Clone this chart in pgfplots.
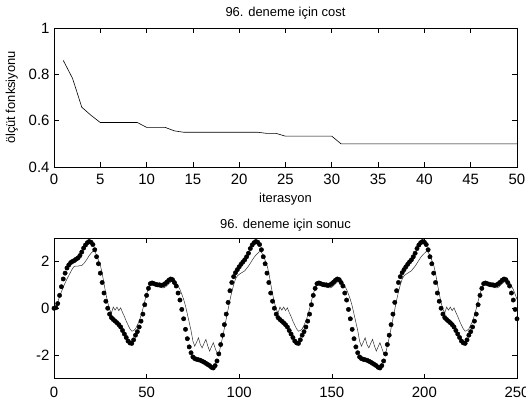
\documentclass[border=0pt]{standalone}
\usepackage{fontspec}
\setmainfont{Liberation Sans}
\usepackage{pgfplots}
\pgfplotsset{compat=1.18}

\pgfplotsset{
  mlab/.style={
    scale only axis,
    width=463bp,
    axis line style={black, line width=0.6bp},
    tick style={black, line width=0.6bp},
    tick align=inside,
    major tick length=5bp,
    /pgf/number format/assume math mode=true,
    tick label style={font=\fontsize{15}{15}\selectfont},
    xticklabel style={yshift=-3.5bp},
    yticklabel style={xshift=-1bp},
    title style={font=\fontsize{13}{13}\selectfont, yshift=-1bp},
    label style={font=\fontsize{13}{13}\selectfont},
  },
}

\begin{document}
\begin{tikzpicture}
\useasboundingbox (0bp,0bp) rectangle (526bp,-402bp);

% cost per iteration
\begin{axis}[mlab,
  at={(54bp,-167bp)}, anchor=south west,
  height=139bp,
  xmin=0, xmax=50, ymin=0.4, ymax=1,
  xtick={0,5,...,50},
  ytick={0.4,0.6,0.8,1},
  title={96. deneme için cost},
  xlabel={iterasyon},
  ylabel={ölçüt fonksiyonu},
  xlabel style={yshift=-2bp},
  ylabel style={yshift=4bp},
]
\addplot[black, line width=0.6bp] coordinates {
(1,0.86)(2,0.783)(3,0.658)(4,0.623)(5,0.592)(6,0.592)(7,0.592)(8,0.592)(9,0.592)
(10,0.571)(11,0.571)(12,0.571)(13,0.556)(14,0.55)(15,0.55)(16,0.55)(17,0.55)(18,0.55)
(19,0.55)(20,0.55)(21,0.55)(22,0.55)(23,0.545)(24,0.545)(25,0.533)(26,0.533)(27,0.533)
(28,0.533)(29,0.533)(30,0.533)(31,0.5)(32,0.5)(33,0.5)(34,0.5)(35,0.5)(36,0.5)(37,0.5)
(38,0.5)(39,0.5)(40,0.5)(41,0.5)(42,0.5)(43,0.5)(44,0.5)(45,0.5)(46,0.5)(47,0.5)
(48,0.5)(49,0.5)(50,0.5)
};
\end{axis}

% result: model output (line) vs target (dots)
\begin{axis}[mlab,
  at={(54bp,-378.5bp)}, anchor=south west,
  height=140.5bp,
  xmin=0, xmax=250, ymin=-3, ymax=3,
  xtick={0,50,...,250},
  ytick={-2,0,2},
  xticklabel style={yshift=-2bp},
  title={96. deneme için sonuc},
  title style={yshift=-2bp},
]
\addplot[black!80, line width=0.5bp] coordinates {
(0,0)(1,0.05)(2,0.25)(3,0.5)(4,0.7)(5,0.9)(6,1.08)(7,1.25)(8,1.4)(9,1.55)(10,1.7)(11,1.79)(12,1.8)(13,1.8)(14,1.82)(15,1.83)(16,1.9)(17,2)(18,2.12)(19,2.25)(20,2.35)(21,2.43)(22,2.45)
(23,2.25)(24,2.05)(25,1.85)(26,1.5)(27,1.05)(28,0.62)(29,0.25)(30,-0.05)(31,-0.2)(32,0.05)(33,-0.08)(34,0.05)(35,-0.1)(36,0.02)(37,-0.18)(38,-0.35)(39,-0.55)(40,-0.72)(41,-0.88)(42,-0.98)(43,-0.95)(44,-0.88)(45,-0.72)(46,-0.55)(47,-0.3)(48,-0.02)(49,0.3)(50,0.62)(51,0.85)(52,1)(53,1.03)(54,1)(55,0.95)(56,0.93)(57,0.9)(58,0.88)(59,0.87)(60,0.9)(61,0.97)(62,1.05)(63,1.12)(64,1.15)(65,1.17)(66,1.1)(67,0.95)(68,0.8)(69,0.6)(70,0.38)(71,0.1)(72,-0.25)(73,-0.6)(74,-0.95)(75,-1.4)(76,-1.62)(77,-1.45)(78,-1.26)(79,-1.55)(80,-1.69)(81,-1.5)(82,-1.33)(83,-1.6)(84,-1.83)(85,-1.65)(86,-1.47)(87,-1.7)(88,-1.92)(89,-1.97)
(90,-1.6)(91,-1.25)(92,-0.85)(93,-0.45)(94,-0.05)(95,0.35)(96,0.7)(97,1)(98,1.25)(99,1.38)(100,1.45)(101,1.5)(102,1.55)(103,1.6)(104,1.7)(105,1.8)(106,1.92)(107,2.05)(108,2.17)(109,2.27)(110,2.35)(111,2.42)(112,2.4)(113,2.25)(114,2.05)(115,1.85)(116,1.5)(117,1.05)(118,0.62)(119,0.25)(120,-0.05)(121,-0.2)(122,0.05)(123,-0.08)(124,0.05)(125,-0.1)(126,0.02)(127,-0.18)(128,-0.35)(129,-0.55)(130,-0.72)(131,-0.88)(132,-0.98)(133,-0.95)(134,-0.88)(135,-0.72)(136,-0.55)(137,-0.3)(138,-0.02)(139,0.3)(140,0.62)(141,0.85)(142,1)(143,1.03)(144,1)(145,0.95)(146,0.93)(147,0.9)(148,0.88)(149,0.87)(150,0.9)(151,0.97)(152,1.05)(153,1.12)(154,1.15)(155,1.17)(156,1.1)(157,0.95)(158,0.8)(159,0.6)(160,0.38)(161,0.1)(162,-0.25)(163,-0.6)(164,-0.95)(165,-1.4)(166,-1.62)(167,-1.45)(168,-1.26)(169,-1.55)(170,-1.69)(171,-1.5)(172,-1.33)(173,-1.6)(174,-1.83)(175,-1.65)(176,-1.47)(177,-1.7)(178,-1.92)(179,-1.97)
(180,-1.6)(181,-1.25)(182,-0.85)(183,-0.45)(184,-0.05)(185,0.35)(186,0.7)(187,1)(188,1.25)(189,1.38)(190,1.45)(191,1.5)(192,1.55)(193,1.6)(194,1.7)(195,1.8)(196,1.92)(197,2.05)(198,2.17)(199,2.27)(200,2.35)(201,2.42)(202,2.4)(203,2.25)(204,2.05)(205,1.85)(206,1.5)(207,1.05)(208,0.62)(209,0.25)(210,-0.05)(211,-0.2)(212,0.05)(213,-0.08)(214,0.05)(215,-0.1)(216,0.02)(217,-0.18)(218,-0.35)(219,-0.55)(220,-0.72)(221,-0.88)(222,-0.98)(223,-0.95)(224,-0.88)(225,-0.72)(226,-0.55)(227,-0.3)(228,-0.02)(229,0.3)(230,0.62)(231,0.85)(232,1)(233,1.03)(234,1)(235,0.95)(236,0.93)(237,0.9)(238,0.88)(239,0.87)(240,0.9)(241,0.97)(242,1.05)(243,1.12)(244,1.15)(245,1.17)(246,1.1)(247,0.95)(248,0.8)(249,0.6)(250,0.38)
};
\addplot[only marks, mark=*, mark size=2.2bp, black] coordinates {
(0,0)(1,0.02)(2,0.2)(3,0.55)(4,0.92)(5,1.25)(6,1.5)(7,1.72)(8,1.85)(9,1.95)(10,2)(11,2.04)(12,2.1)(13,2.15)(14,2.25)(15,2.4)(16,2.57)(17,2.7)(18,2.8)(19,2.85)
(20,2.82)(21,2.72)(22,2.5)(23,2.2)(24,1.9)(25,1.5)(26,1.1)(27,0.65)(28,0.3)(29,0)(30,-0.25)(31,-0.4)(32,-0.48)(33,-0.55)(34,-0.62)(35,-0.7)(36,-0.8)(37,-0.95)(38,-1.1)(39,-1.25)(40,-1.4)(41,-1.48)(42,-1.5)(43,-1.35)(44,-1.15)(45,-1)(46,-0.8)(47,-0.55)(48,-0.25)(49,0.15)(50,0.55)(51,0.85)(52,1.05)(53,1.08)(54,1.05)(55,1.02)(56,1)(57,1)(58,0.98)(59,1)(60,1.05)(61,1.12)(62,1.2)(63,1.25)(64,1.22)(65,1.1)(66,0.95)(67,0.65)(68,0.35)(69,-0.05)(70,-0.45)(71,-0.9)(72,-1.3)(73,-1.65)(74,-1.9)(75,-2.08)(76,-2.15)(77,-2.18)(78,-2.2)(79,-2.22)(80,-2.26)(81,-2.3)(82,-2.35)(83,-2.4)(84,-2.45)(85,-2.52)(86,-2.55)(87,-2.45)(88,-2.25)(89,-1.95)
(90,-1.55)(91,-1.15)(92,-0.7)(93,-0.25)(94,0.25)(95,0.75)(96,1.1)(97,1.35)(98,1.52)(99,1.65)(100,1.77)(101,1.88)(102,1.98)(103,2.07)(104,2.2)(105,2.35)(106,2.55)(107,2.7)(108,2.8)(109,2.85)(110,2.82)(111,2.72)(112,2.5)(113,2.2)(114,1.9)(115,1.5)(116,1.1)(117,0.65)(118,0.3)(119,0)(120,-0.25)(121,-0.4)(122,-0.48)(123,-0.55)(124,-0.62)(125,-0.7)(126,-0.8)(127,-0.95)(128,-1.1)(129,-1.25)(130,-1.4)(131,-1.48)(132,-1.5)(133,-1.35)(134,-1.15)(135,-1)(136,-0.8)(137,-0.55)(138,-0.25)(139,0.15)(140,0.55)(141,0.85)(142,1.05)(143,1.08)(144,1.05)(145,1.02)(146,1)(147,1)(148,0.98)(149,1)(150,1.05)(151,1.12)(152,1.2)(153,1.25)(154,1.22)(155,1.1)(156,0.95)(157,0.65)(158,0.35)(159,-0.05)(160,-0.45)(161,-0.9)(162,-1.3)(163,-1.65)(164,-1.9)(165,-2.08)(166,-2.15)(167,-2.18)(168,-2.2)(169,-2.22)(170,-2.26)(171,-2.3)(172,-2.35)(173,-2.4)(174,-2.45)(175,-2.52)(176,-2.55)(177,-2.45)(178,-2.25)(179,-1.95)
(180,-1.55)(181,-1.15)(182,-0.7)(183,-0.25)(184,0.25)(185,0.75)(186,1.1)(187,1.35)(188,1.52)(189,1.65)(190,1.77)(191,1.88)(192,1.98)(193,2.07)(194,2.2)(195,2.35)(196,2.55)(197,2.7)(198,2.8)(199,2.85)(200,2.82)(201,2.72)(202,2.5)(203,2.2)(204,1.9)(205,1.5)(206,1.1)(207,0.65)(208,0.3)(209,0)(210,-0.25)(211,-0.4)(212,-0.48)(213,-0.55)(214,-0.62)(215,-0.7)(216,-0.8)(217,-0.95)(218,-1.1)(219,-1.25)(220,-1.4)(221,-1.48)(222,-1.5)(223,-1.35)(224,-1.15)(225,-1)(226,-0.8)(227,-0.55)(228,-0.25)(229,0.15)(230,0.55)(231,0.85)(232,1.05)(233,1.08)(234,1.05)(235,1.02)(236,1)(237,1)(238,0.98)(239,1)(240,1.05)(241,1.12)(242,1.2)(243,1.25)(244,1.22)(245,1.1)(246,0.95)(247,0.65)(248,0.35)(249,-0.05)(250,-0.45)
};
\end{axis}
\end{tikzpicture}
\end{document}
